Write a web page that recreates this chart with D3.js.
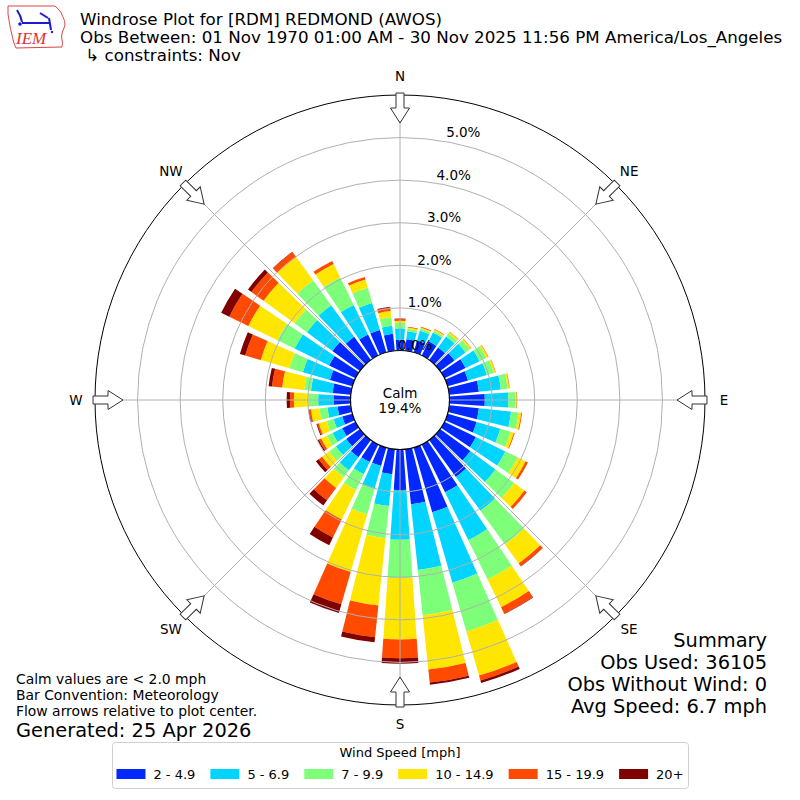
<!DOCTYPE html>
<html>
<head>
<meta charset="utf-8">
<script src="https://cdn.jsdelivr.net/npm/d3@7"></script>
<style>
  body { margin: 0; background: #fff; }
  text { font-family: "DejaVu Sans", sans-serif; fill: #000; }
</style>
</head>
<body>
<svg id="chart"></svg>
<script>
// 36 sectors, 10 degrees apart, values are % of all obs
const directions = d3.range(0, 360, 10);
const speedBins = ['2 - 4.9', '5 - 6.9', '7 - 9.9', '10 - 14.9', '15 - 19.9', '20+'];
const binColors = ['#0028ff', '#00d4ff', '#7dff7a', '#ffe600', '#ff4a00', '#800000'];

const bin2to5 = [.25, .27, .29, .37, .36, .42, .55, .50, .70, .83, .70, .71, .82, .88, 1.07, 1.25, 1.58, 1.30,
                 .95, .59, .45, .46, .50, .40, .35, .25, .31, .40, .43, .55, .69, .80, .67, .55, .55, .40];
const bin5to7 = [.27, .19, .24, .23, .32, .32, .37, .46, .52, .55, .76, .58, .77, .73, .98, 1.25, 1.72, 1.55,
                 1.17, .75, .55, .32, .38, .30, .25, .21, .24, .36, .51, .66, .90, .74, .92, .77, .66, .19];
const bin7to10 = [.13, .06, .05, .05, .09, .12, .17, .17, .16, .16, .18, .25, .32, .54, .98, 1.03, 1.19, 1.07,
                  .90, .76, .63, .41, .20, .20, .15, .17, .19, .23, .16, .33, .45, .36, .72, .72, .37, .20];
const bin10to15 = [.05, .03, .03, .03, .04, .04, .05, .04, .04, .04, .06, .08, .21, .30, .55, .72, 1.08, 1.28,
                   1.44, 1.59, 1.41, .77, .31, .20, .15, .19, .20, .34, .52, .70, .76, .90, .68, .35, .20, .15];
const bin15to20 = [.04, .02, .02, .01, .01, .01, .01, .01, .01, .01, .02, .02, .06, .07, .08, .17, .12, .31,
                   .44, .75, .79, .47, .36, .10, .06, .04, .04, .09, .24, .38, .50, .35, .14, .08, .06, .08];
const bin20up = [.01, 0, 0, 0, 0, 0, 0, 0, 0, 0, 0, 0, 0, 0, .01, .01, .06, .05,
                 .13, .12, .21, .20, .15, .08, .03, .02, .02, .08, .08, .13, .21, .10, .01, 0, 0, .02];

const rTicks = [0, 1, 2, 3, 4, 5];
const compass = ['N', 'NE', 'E', 'SE', 'S', 'SW', 'W', 'NW'];
const calmPct = '19.4%';

const titleLines = [
  'Windrose Plot for [RDM] REDMOND (AWOS)',
  'Obs Between: 01 Nov 1970 01:00 AM - 30 Nov 2025 11:56 PM America/Los_Angeles',
  ' \u21b3 constraints: Nov'
];
const noteLines = ['Calm values are < 2.0 mph', 'Bar Convention: Meteorology', 'Flow arrows relative to plot center.'];
const generated = 'Generated: 25 Apr 2026';
const summaryLines = ['Summary', 'Obs Used: 36105', 'Obs Without Wind: 0', 'Avg Speed: 6.7 mph'];

const width = 800,
      height = 800,
      cx = 400,
      cy = 400,
      gridColor = '#b0b0b0';

const svg = d3.select('#chart')
  .attr('width', width)
  .attr('height', height);

const r = d3.scaleLinear().domain([0, 6]).range([49.5, 305]);
const rad = d => d * Math.PI / 180;
const halfW = rad(4);   // bars are 8 deg wide, 2 deg gap

const series = [bin2to5, bin5to7, bin7to10, bin10to15, bin15to20, bin20up];

// stack each direction outward
const segments = directions.flatMap((dir, i) => {
  let acc = 0;
  return series.map((s, k) => {
    const y0 = acc;
    acc += s[i];
    return { dir: dir, k: k, y0: y0, y1: acc };
  });
}).filter(d => d.y1 > d.y0);

const plot = svg.append('g').attr('transform', `translate(${cx},${cy})`);

const arc = d3.arc();

plot.append('g').selectAll('path')
  .data(segments)
  .enter().append('path')
  .attr('fill', d => binColors[d.k])
  .attr('d', d => arc({
    innerRadius: r(d.y0),
    outerRadius: r(d.y1),
    startAngle: rad(d.dir) - halfW,
    endAngle: rad(d.dir) + halfW
  }));

// grid on top of the bars
plot.append('g').selectAll('circle')
  .data(rTicks)
  .enter().append('circle')
  .attr('r', d => r(d))
  .attr('fill', 'none')
  .attr('stroke', gridColor)
  .attr('stroke-width', 1);

plot.append('g').selectAll('line')
  .data(d3.range(0, 360, 45))
  .enter().append('line')
  .attr('x1', d => r(0) * Math.sin(rad(d)))
  .attr('y1', d => -r(0) * Math.cos(rad(d)))
  .attr('x2', d => r(6) * Math.sin(rad(d)))
  .attr('y2', d => -r(6) * Math.cos(rad(d)))
  .attr('stroke', gridColor)
  .attr('stroke-width', 1);

// calm circle
plot.append('circle')
  .attr('r', r(0))
  .attr('fill', '#fff')
  .attr('stroke', '#000')
  .attr('stroke-width', 1.2);

plot.append('text')
  .attr('text-anchor', 'middle')
  .attr('y', -2)
  .style('font-size', '13.5px')
  .text('Calm');
plot.append('text')
  .attr('text-anchor', 'middle')
  .attr('y', 13)
  .style('font-size', '13.5px')
  .text(calmPct);

// outer spine
plot.append('circle')
  .attr('r', r(6))
  .attr('fill', 'none')
  .attr('stroke', '#000')
  .attr('stroke-width', 1);

// flow arrows, pointing at the centre
const arrowPts = [[-4, -307], [4, -307], [4, -292], [9.5, -292], [0, -277], [-9.5, -292], [-4, -292]];
plot.append('g').selectAll('path')
  .data(d3.range(0, 360, 45))
  .enter().append('path')
  .attr('d', 'M' + arrowPts.join('L') + 'Z')
  .attr('transform', d => `rotate(${d})`)
  .attr('fill', '#fff')
  .attr('stroke', '#333')
  .attr('stroke-width', 1);

// compass labels
plot.append('g').selectAll('text')
  .data(compass)
  .enter().append('text')
  .attr('x', (d, i) => 324 * Math.sin(rad(i * 45)))
  .attr('y', (d, i) => -324 * Math.cos(rad(i * 45)))
  .attr('text-anchor', 'middle')
  .attr('dy', '0.36em')
  .style('font-size', '13.5px')
  .text(d => d);

// radial tick labels
plot.append('g').selectAll('text')
  .data(rTicks)
  .enter().append('text')
  .attr('x', d => 0.226 * r(d) + 4)
  .attr('y', d => -r(d) - 5.5)
  .attr('dy', '0.36em')
  .attr('text-anchor', 'middle')
  .style('font-size', '13.5px')
  .text(d => d.toFixed(1) + '%');

// titles
svg.append('g').selectAll('text')
  .data(titleLines)
  .enter().append('text')
  .attr('x', 80)
  .attr('y', (d, i) => 25 + i * 18)
  .attr('xml:space', 'preserve')
  .style('white-space', 'pre')
  .style('font-size', '16.7px')
  .text(d => d);

// notes bottom left
svg.append('g').selectAll('text')
  .data(noteLines)
  .enter().append('text')
  .attr('x', 16)
  .attr('y', (d, i) => 684 + i * 16)
  .style('font-size', '13.9px')
  .text(d => d);

svg.append('text')
  .attr('x', 16)
  .attr('y', 737)
  .style('font-size', '19.4px')
  .text(generated);

// summary bottom right
svg.append('g').selectAll('text')
  .data(summaryLines)
  .enter().append('text')
  .attr('x', 767)
  .attr('y', (d, i) => 647 + i * 22)
  .attr('text-anchor', 'end')
  .style('font-size', '19.4px')
  .text(d => d);

// legend
const legend = svg.append('g');
legend.append('rect')
  .attr('x', 112.5)
  .attr('y', 742.5)
  .attr('width', 576)
  .attr('height', 46)
  .attr('rx', 3)
  .attr('fill', '#fff')
  .attr('stroke', '#d0d0d0');

legend.append('text')
  .attr('x', 400)
  .attr('y', 757)
  .attr('text-anchor', 'middle')
  .style('font-size', '13px')
  .text('Wind Speed [mph]');

const patchW = 29, patchH = 10, pad = 8, colGap = 15;
const items = legend.append('g');
const labels = items.selectAll('text')
  .data(speedBins)
  .enter().append('text')
  .attr('y', 779)
  .style('font-size', '13px')
  .text(d => d);
const widths = [];
labels.each(function() { widths.push(this.getComputedTextLength()); });
const total = d3.sum(widths) + speedBins.length * (patchW + pad) + (speedBins.length - 1) * colGap;
let xPos = 400 - total / 2;
const starts = widths.map(w => { const s = xPos; xPos += patchW + pad + w + colGap; return s; });
labels.attr('x', (d, i) => starts[i] + patchW + pad);
items.selectAll('rect')
  .data(speedBins)
  .enter().append('rect')
  .attr('x', (d, i) => starts[i])
  .attr('y', 769)
  .attr('width', patchW)
  .attr('height', patchH)
  .attr('fill', (d, i) => binColors[i]);

// IEM logo, roughly
const logo = svg.append('g');
logo.append('path')
  .attr('d', 'M8,6 L55,6 C58,9 61,11 62,15 C64,19 66,23 64,28 C62,32 61,36 62,40 C63,43 62,45 62,47 L16,48 C14,44 13,40 12,35 C10,28 9,20 8,14 Z')
  .attr('fill', '#fff')
  .attr('stroke', '#d44')
  .attr('stroke-width', 1);
logo.append('path')
  .attr('d', 'M17,10 C19,13 21,16 22,22 M22,23 L50,23 M40,13 L48,18 M49,18 L51,30')
  .attr('fill', 'none')
  .attr('stroke', '#1a1ad0')
  .attr('stroke-width', 2);
logo.append('circle').attr('cx', 20).attr('cy', 24).attr('r', 1.8).attr('fill', '#1a1ad0');
logo.append('circle').attr('cx', 52).attr('cy', 32).attr('r', 1.2).attr('fill', '#1a1ad0');
logo.append('text')
  .attr('x', 16)
  .attr('y', 44)
  .style('font-family', '"Liberation Serif", serif')
  .style('font-style', 'italic')
  .style('font-size', '17px')
  .style('fill', '#d33')
  .text('IEM');
</script>
</body>
</html>
